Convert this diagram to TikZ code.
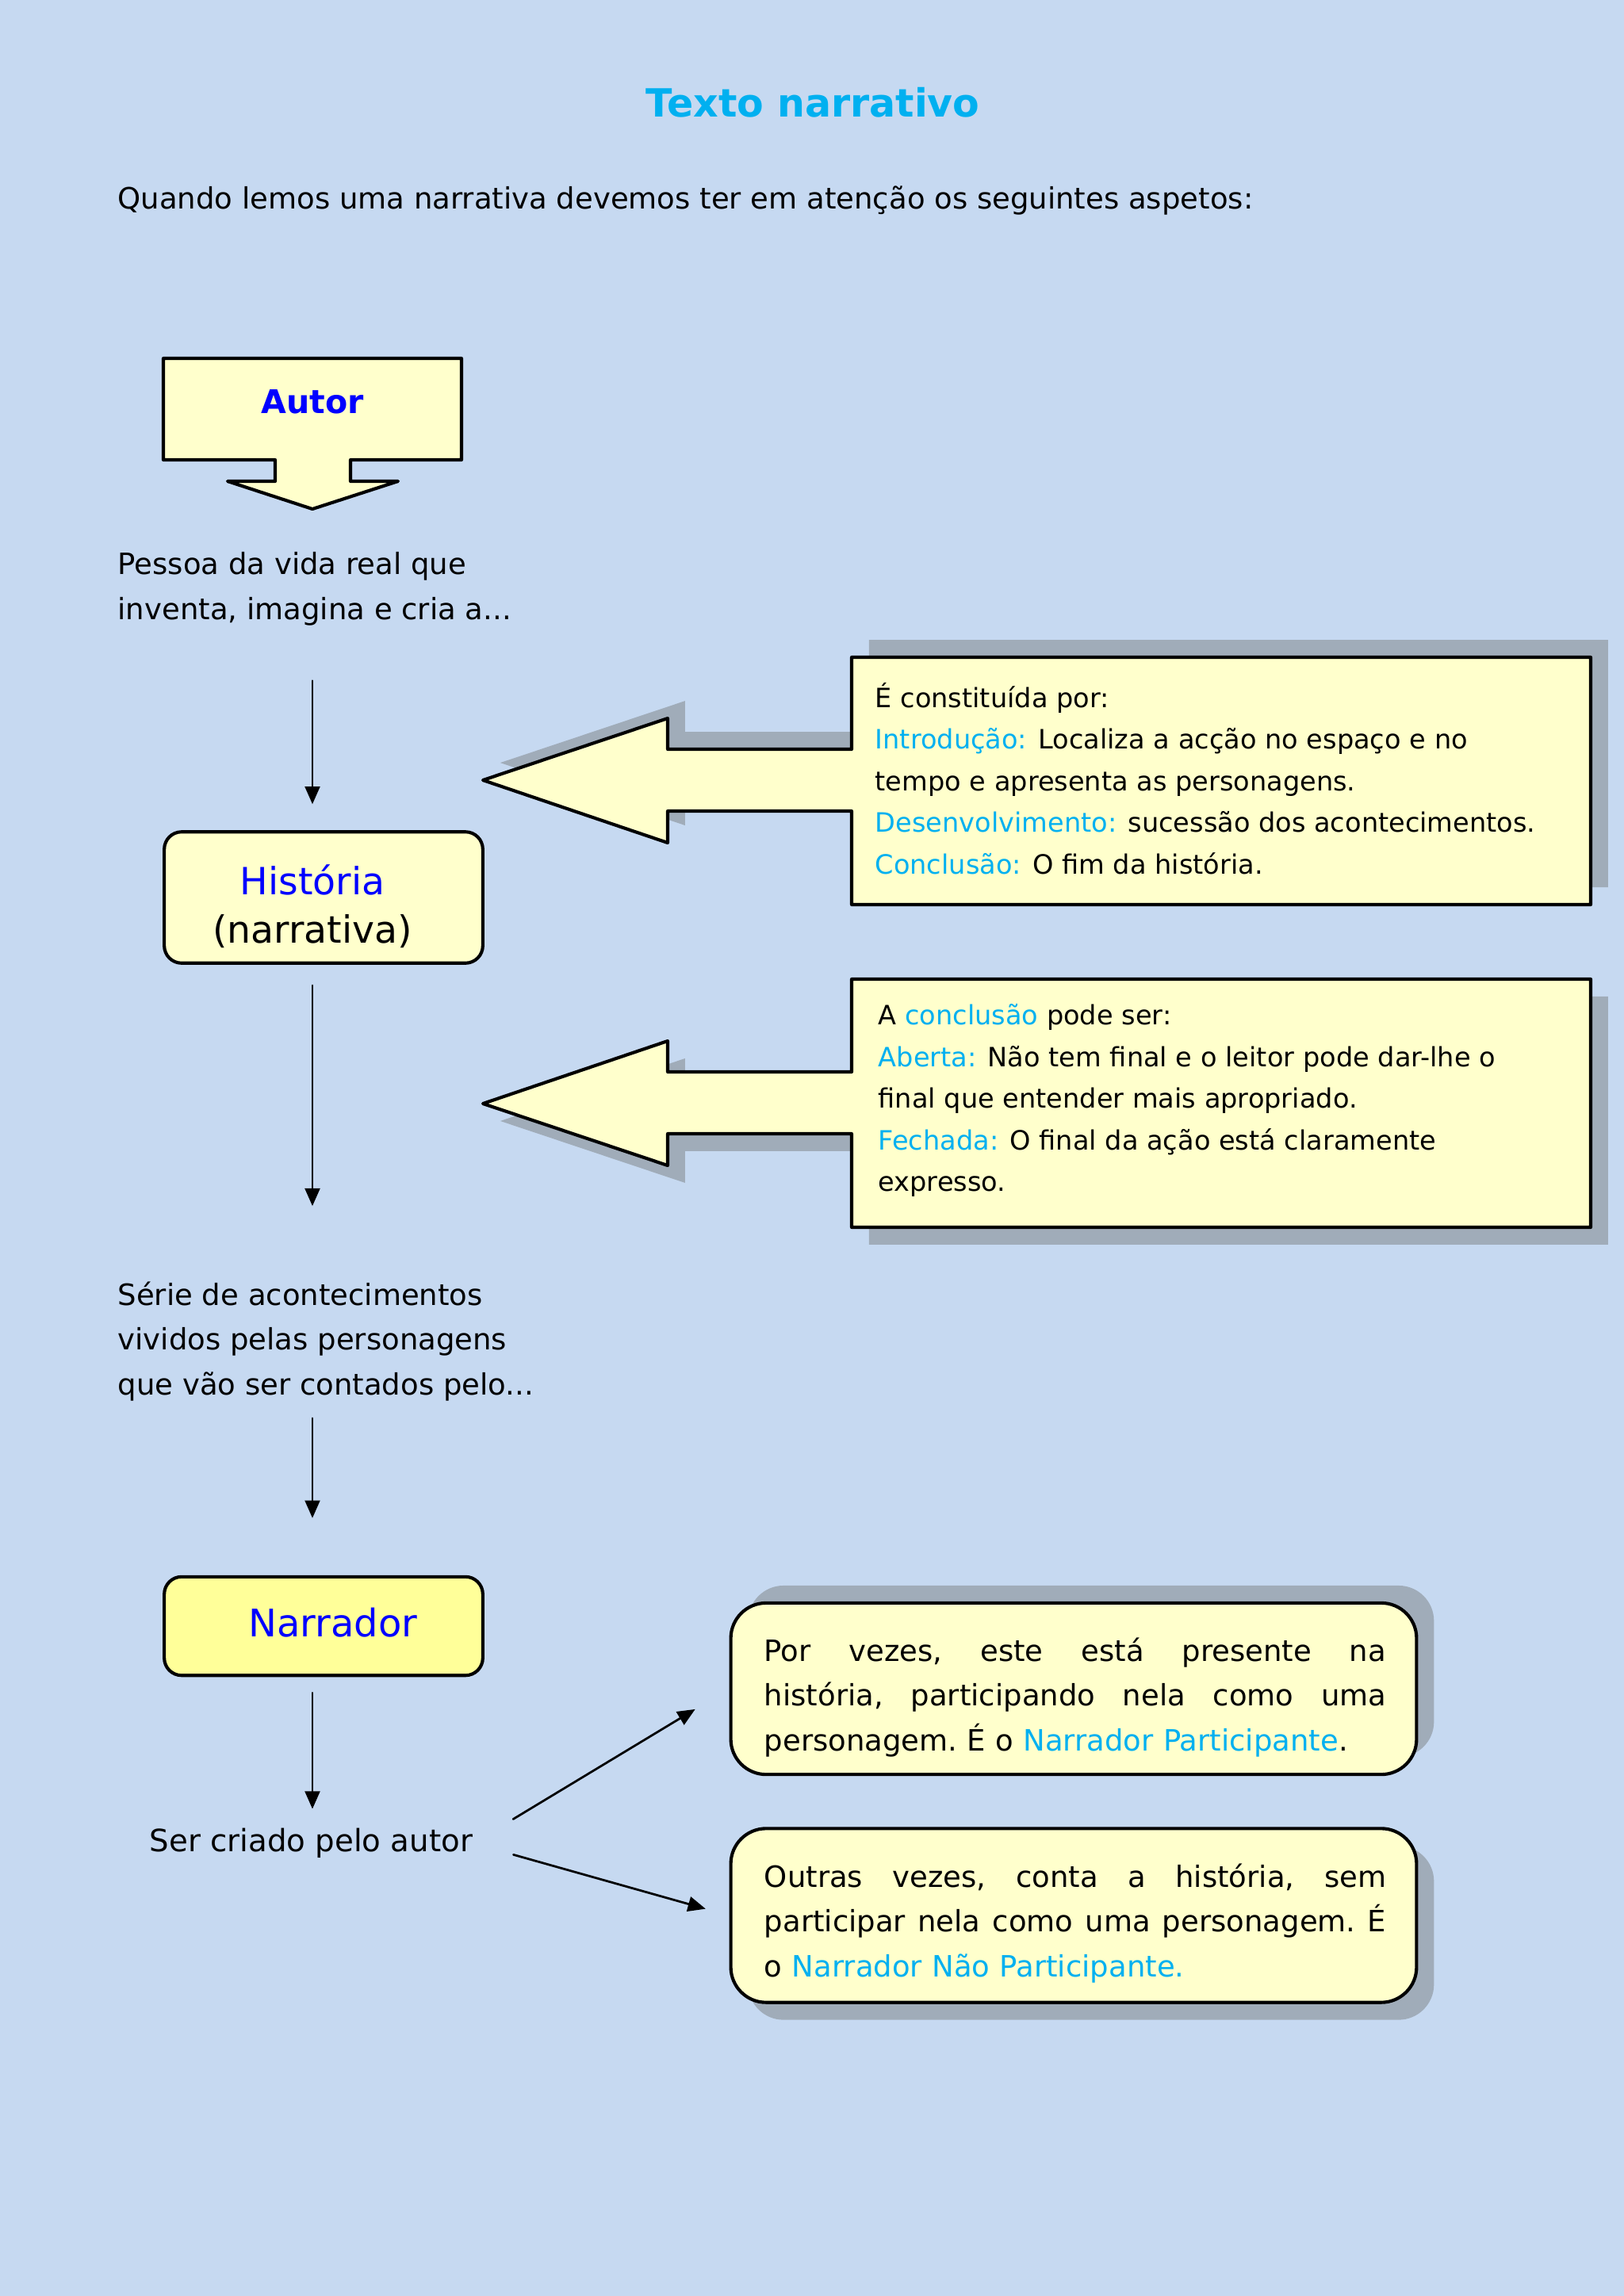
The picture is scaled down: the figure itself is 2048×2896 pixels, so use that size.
\documentclass[tikz,border=0pt]{standalone}
\usepackage{fontspec}
\setmainfont{DejaVu Sans}
\usepackage{tikz}
\usetikzlibrary{arrows.meta}
\usetikzlibrary{shadows}
\usetikzlibrary{positioning}
\definecolor{fundo}{RGB}{198,217,241}
\definecolor{ciano}{RGB}{0,176,240}
\definecolor{azul}{RGB}{0,0,255}
\definecolor{creme}{RGB}{255,255,204}
\definecolor{amarelo}{RGB}{255,255,153}
\definecolor{sombra}{RGB}{160,172,185}
\newcommand{\linhacheia}[1]{\leavevmode\hbox to 228.8pt{\spaceskip=0.32em plus 1fil\xspaceskip=\spaceskip #1}}

\begin{document}
\begin{tikzpicture}[line cap=round,line join=round,x=0.010254cm,y=-0.010254cm,
  texto/.style={anchor=west,align=left,inner sep=0pt,font=\fontsize{10.8}{16.6}\selectfont},
  textocaixa/.style={anchor=west,align=left,inner sep=0pt,font=\fontsize{9.8}{15.3}\selectfont},
  textojust/.style={inner sep=0pt,text width=228.8pt,align=left,font=\frenchspacing\fontsize{10.8}{16.6}\selectfont},
  caixa/.style={draw=black,line width=1.2pt,fill=creme},
  seta/.style={-{Triangle[length=6.5pt,width=5.5pt]},line width=0.8pt},
  sombracima/.style={drop shadow={shadow xshift=6.4pt,shadow yshift=6.4pt,fill=sombra,opacity=1}},
  sombrabaixo/.style={drop shadow={shadow xshift=6.4pt,shadow yshift=-6.4pt,fill=sombra,opacity=1}}]
\fill[fundo] (0,0) rectangle (2048,2896);
% titulo e introducao
\node[font=\bfseries\fontsize{14.3}{17}\selectfont,text=ciano] (titulo) at (1025,129) {Texto narrativo};
\node[texto] (intro) at (148,253) {Quando lemos uma narrativa devemos ter em atenção os seguintes aspetos:};
% autor
\draw[caixa] (206,452) -- (582,452) -- (582,580) -- (442,580) -- (442,607) -- (502,607) -- (394,642)
  -- (287,607) -- (347,607) -- (347,580) -- (206,580) -- cycle;
\node[font=\bfseries\fontsize{12}{14}\selectfont,text=azul] (autor) at (394,507) {Autor};
\node[texto] (pessoa) at (148,743) {Pessoa da vida real que\\inventa, imagina e cria a...};
% historia
\node[caixa,rounded corners=6.4pt,minimum width=117.2pt,minimum height=48.3pt] (historia) at (408,1132) {};
\node[font=\fontsize{13.8}{19}\selectfont,text=azul] (historiatit) at (394,1110) {História};
\node[font=\fontsize{13.8}{19}\selectfont] (narrativa) at (394,1175) {(narrativa)};
\node[texto] (serie) at (148,1692) {Série de acontecimentos\\vividos pelas personagens\\que vão ser contados pelo...};
% narrador
\node[caixa,fill=amarelo,rounded corners=6.4pt,minimum width=117.2pt,minimum height=36.3pt] (narrador) at (408,2051) {};
\node[font=\fontsize{14}{16}\selectfont,text=azul] (narradortit) at (420,2047) {Narrador};
\node[texto,font=\fontsize{11.3}{16.6}\selectfont] (ser) at (188,2325) {Ser criado pelo autor};
% setas verticais
\draw[seta,shorten <=20pt,shorten >=9.6pt] (autor.south |- pessoa.south) -- (autor.south |- historia.north);
\draw[seta,shorten <=7.6pt,shorten >=27.6pt] (autor.south |- historia.south) -- (autor.south |- serie.north);
\draw[seta,shorten <=6pt,shorten >=21pt] (autor.south |- serie.south) -- (autor.south |- narrador.north);
\draw[seta,shorten <=5.8pt,shorten >=7pt] (autor.south |- narrador.south) -- (autor.south |- ser.north);
% caixa 1
\draw[caixa,sombracima] (1074,829) -- (2006,829) -- (2006,1141) -- (1074,1141) -- (1074,1023) -- (842,1023)
  -- (842,1063) -- (609,984) -- (842,906) -- (842,945) -- (1074,945) -- cycle;
\node[textocaixa] (constituida) at (1103,982) {É constituída por:\\
  \textcolor{ciano}{Introdução:} Localiza a acção no espaço e no\\
  tempo e apresenta as personagens.\\
  \textcolor{ciano}{Desenvolvimento:} sucessão dos acontecimentos.\\
  \textcolor{ciano}{Conclusão:} O fim da história.};
% caixa 2
\draw[caixa,sombrabaixo] (1074,1235) -- (2006,1235) -- (2006,1548) -- (1074,1548) -- (1074,1430) -- (842,1430)
  -- (842,1470) -- (609,1392) -- (842,1313) -- (842,1352) -- (1074,1352) -- cycle;
\node[textocaixa] (conclusao) at (1107,1388) {A \textcolor{ciano}{conclusão} pode ser:\\
  \textcolor{ciano}{Aberta:} Não tem final e o leitor pode dar-lhe o\\
  final que entender mais apropriado.\\
  \textcolor{ciano}{Fechada:} O final da ação está claramente\\
  expresso.};
% narrador participante / nao participante
\node[caixa,rounded corners=13pt,sombracima,minimum width=252.3pt,minimum height=63.1pt] (participante) at (1354,2130) {};
\node[textojust] (participantetxt) at (1356,2141)
  {\linhacheia{Por vezes, este está presente na}\\
   \linhacheia{história, participando nela como uma}\\
   personagem. É o \textcolor{ciano}{Narrador Participante}.};
\node[caixa,rounded corners=13pt,sombrabaixo,minimum width=252.3pt,minimum height=64pt] (naoparticipante) at (1354,2416) {};
\node[textojust] (naoparticipantetxt) at (1356,2426)
  {\linhacheia{Outras vezes, conta a história, sem}\\
   \linhacheia{participar nela como uma personagem. É}\\
   o \textcolor{ciano}{Narrador Não Participante.}};
\draw[seta,shorten <=17.2pt,shorten >=14.6pt] (ser.east) -- (participante.west);
\draw[seta,shorten <=15.4pt,shorten >=9pt] (ser.east) -- (naoparticipante.west);
\end{tikzpicture}
\end{document}
